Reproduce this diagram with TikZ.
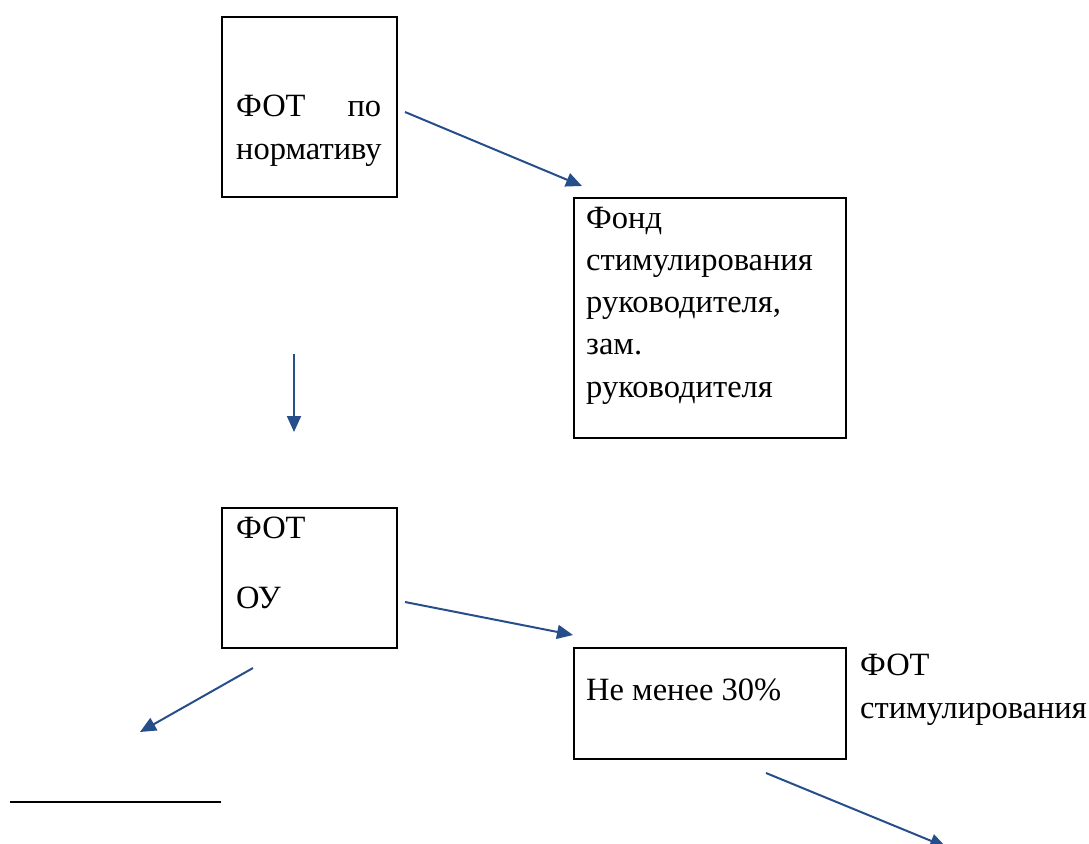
\documentclass[tikz,border=0pt]{standalone}
\usepackage{fontspec}
\setmainfont{Liberation Serif}
\usetikzlibrary{arrows.meta}
\definecolor{arrblue}{RGB}{38,78,138}
\begin{document}
\begin{tikzpicture}[x=1pt,y=-1pt,
  box/.style={draw=black,line width=2.4pt,rectangle,anchor=north west,inner sep=0pt},
  txt/.style={anchor=base west,inner sep=0pt,font=\fontsize{32.5}{43}\selectfont},
  arr/.style={draw=arrblue,line width=2pt,-{Triangle[length=16pt,width=14pt]}}]
\useasboundingbox (0,0) rectangle (1089,843);
% boxes
\node[box,minimum width=175pt,minimum height=180pt] (b1) at (221,16) {};
\node[box,minimum width=272pt,minimum height=240pt] (b2) at (573,197) {};
\node[box,minimum width=175pt,minimum height=140pt] (b3) at (221,507) {};
\node[box,minimum width=272pt,minimum height=111pt] (b4) at (573,647) {};
% texts
\node[txt,text width=145pt,align=left] (t1) at (236,116) {ФОТ\hfill по\\нормативу};
\node[txt] (t2a) at (586,228) {Фонд};
\node[txt] (t2b) at (586,270) {стимулирования};
\node[txt] (t2c) at (586,312) {руководителя,};
\node[txt] (t2d) at (586,354) {зам.};
\node[txt] (t2e) at (586,397) {руководителя};
\node[txt] (t3a) at (236,538) {ФОТ};
\node[txt] (t3b) at (236,608) {ОУ};
\node[txt] (t4) at (586,700) {Не менее 30\%};
\node[txt] (l1) at (860,675) {ФОТ};
\node[txt] (l2) at (860,718) {стимулирования};
% arrow end points
\coordinate (a1s) at (405,112); \coordinate (a1e) at (582,186);
\coordinate (a2s) at (294,354); \coordinate (a2e) at (294,432);
\coordinate (a3s) at (405,602); \coordinate (a3e) at (573,635);
\coordinate (a4s) at (253,668); \coordinate (a4e) at (140,732);
\coordinate (a5s) at (766,773); \coordinate (a5e) at (946,847);
\coordinate (ls) at (10,802); \coordinate (le) at (221,802);
\draw[arr] (a1s) -- (a1e);
\draw[arr] (a2s) -- (a2e);
\draw[arr] (a3s) -- (a3e);
\draw[arr] (a4s) -- (a4e);
\draw[arr] (a5s) -- (a5e);
\draw[line width=2.4pt,black] (ls) -- (le);
\end{tikzpicture}
\end{document}
